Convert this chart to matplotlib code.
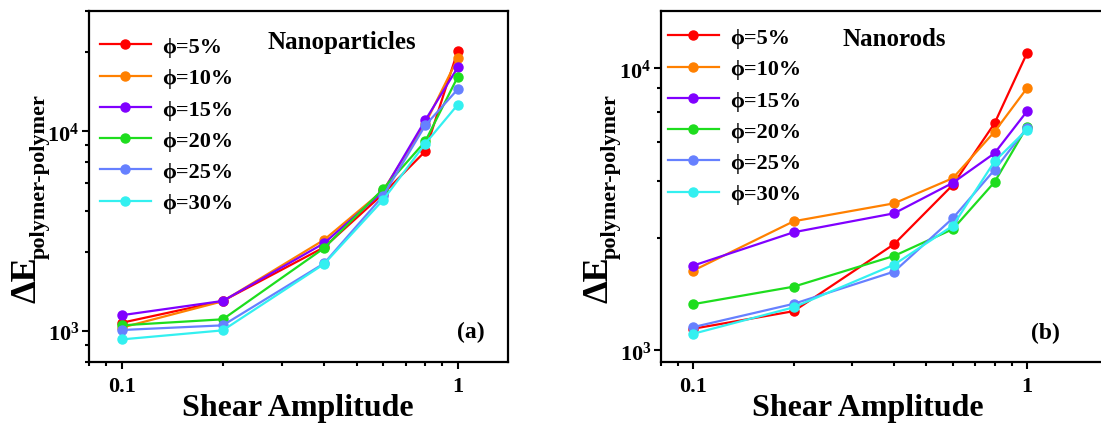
import numpy as np
import matplotlib
matplotlib.use("Agg")
import matplotlib.pyplot as plt
from matplotlib.ticker import LogLocator, FixedLocator, FixedFormatter, NullFormatter

plt.rcParams['font.family'] = ['Liberation Serif', 'DejaVu Serif']
plt.rcParams['font.weight'] = 'bold'
plt.rcParams['mathtext.fontset'] = 'custom'
plt.rcParams['mathtext.rm'] = 'Liberation Serif:bold'
plt.rcParams['mathtext.bf'] = 'Liberation Serif:bold'
plt.rcParams['mathtext.it'] = 'Liberation Serif:italic:bold'

# ---------------- data ----------------
shear = [0.1, 0.2, 0.4, 0.6, 0.8, 1.0]
labels = ["ϕ=5%", "ϕ=10%", "ϕ=15%", "ϕ=20%", "ϕ=25%", "ϕ=30%"]
colors = ["#FF0000", "#FF8000", "#8000FF", "#1EDD1E", "#6680FF", "#33F0F0"]

np_5 = [1100, 1415, 2625, 4870, 7940, 25300]
np_10 = [1040, 1410, 2860, 5060, 10900, 23200]
np_15 = [1200, 1415, 2750, 5000, 11350, 20900]
np_20 = [1068, 1145, 2600, 5150, 8900, 18750]
np_25 = [1012, 1068, 2180, 4760, 10700, 16250]
np_30 = [908, 1008, 2165, 4540, 8670, 13600]

nr_5 = [1194, 1378, 2381, 3862, 6382, 11290]
nr_10 = [1919, 2870, 3322, 4080, 5960, 8490]
nr_15 = [1999, 2624, 3062, 3928, 5000, 7030]
nr_20 = [1459, 1683, 2163, 2692, 3951, 6195]
nr_25 = [1210, 1463, 1903, 2943, 4366, 6140]
nr_30 = [1146, 1422, 2014, 2767, 4677, 6056]

x_ticks = [0.1, 1]
x_ticklabels = ["0.1", "1"]
y_ticks = [1e3, 1e4]
y_ticklabels = [r"$\mathbf{10^{3}}$", r"$\mathbf{10^{4}}$"]

panels = [
    dict(series=[np_5, np_10, np_15, np_20, np_25, np_30], title="Nanoparticles",
         tag="(a)", ylim=(700, 40000), xlim=(0.08, 1.41),
         rect=[89 / 1101, 68 / 431, 419 / 1101, 351 / 431],
         title_xy=(342, 43), tag_xy=(471, 332), legend_xy=(93, 31),
         xlabel_x=298, dE_x=27, sub_x=40),
    dict(series=[nr_5, nr_10, nr_15, nr_20, nr_25, nr_30], title="Nanorods",
         tag="(b)", ylim=(910, 16000), xlim=(0.08, 1.8),
         rect=[661 / 1101, 68 / 431, 451 / 1101, 351.3 / 431],
         title_xy=(894, 40), tag_xy=(1045, 333), legend_xy=(661, 22),
         xlabel_x=868, dE_x=599, sub_x=611),
]

W, H = 1101, 431
fig = plt.figure(figsize=(W / 100, H / 100), dpi=100)

for p in panels:
    ax = fig.add_axes(p["rect"])
    for vals, lab, c in zip(p["series"], labels, colors):
        ax.plot(shear, vals, '-o', color=c, lw=1.6, ms=6.5, label=lab)
    ax.set_xscale('log')
    ax.set_yscale('log')
    ax.set_xlim(*p["xlim"])
    ax.set_ylim(*p["ylim"])
    ax.xaxis.set_major_locator(FixedLocator(x_ticks))
    ax.xaxis.set_major_formatter(FixedFormatter(x_ticklabels))
    ax.xaxis.set_minor_locator(LogLocator(base=10, subs=np.arange(2, 10)))
    ax.xaxis.set_minor_formatter(NullFormatter())
    ax.yaxis.set_major_locator(FixedLocator(y_ticks))
    ax.yaxis.set_major_formatter(FixedFormatter(y_ticklabels))
    ax.yaxis.set_minor_locator(LogLocator(base=10, subs=[2.5, 4, 5.5, 7, 8.5]))
    ax.yaxis.set_minor_formatter(NullFormatter())
    ax.tick_params(which='major', direction='out', length=5, width=1.5,
                   labelsize=16, top=False, right=False)
    ax.tick_params(which='minor', direction='out', length=3, width=1.5,
                   top=False, right=False)
    ax.tick_params(axis='x', which='major', pad=5)
    ax.tick_params(axis='y', which='major', pad=2, labelsize=16)
    for s in ax.spines.values():
        s.set_linewidth(1.6)
    # x label
    fig.text(p["xlabel_x"] / W, 1 - 409 / H, "Shear Amplitude", ha='center',
             va='center', fontsize=23, fontweight='bold')
    # y label (ΔE with subscript)
    fig.text(p["dE_x"] / W, 1 - 303 / H, "ΔE", rotation=90, ha='center',
             va='bottom', fontsize=26, fontweight='bold')
    fig.text(p["sub_x"] / W, 1 - 259 / H, "polymer-polymer", rotation=90,
             ha='center', va='bottom', fontsize=16, fontweight='bold')
    lx, ly = p["legend_xy"]
    ax.legend(loc='upper left', bbox_to_anchor=(lx / W, 1 - ly / H),
              bbox_transform=fig.transFigure, frameon=False,
              prop=dict(family=['Liberation Serif', 'DejaVu Serif'], weight='bold', size=16),
              handlelength=2.3, handletextpad=0.5, labelspacing=0.48,
              borderaxespad=0, borderpad=0.3)
    tx, ty = p["title_xy"]
    fig.text(tx / W, 1 - ty / H, p["title"], ha='center', va='center',
             fontsize=18, fontweight='bold')
    gx, gy = p["tag_xy"]
    fig.text(gx / W, 1 - gy / H, p["tag"], ha='center', va='center',
             fontsize=17, fontweight='bold')

fig.savefig("out.png", dpi=100)
